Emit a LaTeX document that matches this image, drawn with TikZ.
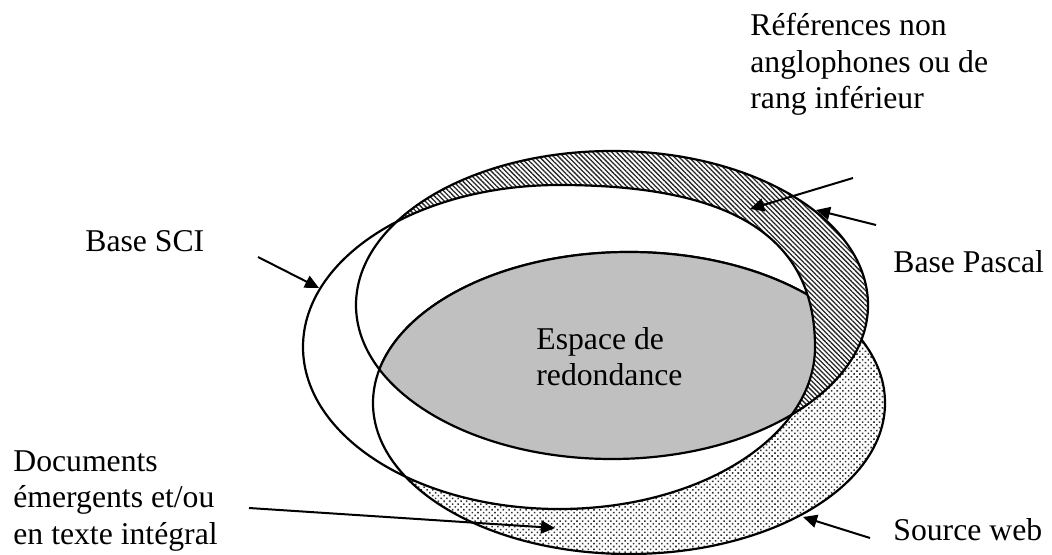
\documentclass[tikz,border=0pt]{standalone}
\usepackage{fontspec}
\setmainfont{Liberation Serif}
\usetikzlibrary{arrows.meta, patterns.meta}
\definecolor{overlapgray}{RGB}{192,192,192}

\begin{document}
\begin{tikzpicture}[x=0.5pt, y=-0.5pt,
  every node/.style={font=\fontsize{15.85pt}{18.25pt}\selectfont, inner sep=0pt},
  outline/.style={line width=1.1pt},
  pointer/.style={line width=1pt, -{Triangle[length=7pt, width=6.5pt]}},
  sciset/.style={insert path={(303,347) .. controls (303,257.5) and (417.6,185) .. (559,185)
      .. controls (733,185) and (815,237) .. (815,347)
      .. controls (815,436.5) and (700.4,509) .. (559,509)
      .. controls (417.6,509) and (303,436.5) .. cycle}},
  pascalset/.style={insert path={(612,305) ellipse [x radius=256, y radius=154]}},
  webset/.style={insert path={(629,403) ellipse [x radius=256, y radius=151]}}]

\useasboundingbox (0,0) rectangle (1052,555);

% source web
\path[fill=white, webset];
\path[pattern={Dots[distance=2pt, radius=0.55pt, angle=45]}, pattern color=black!80, webset];
\draw[outline, webset];

% base Pascal
\path[fill=white, pascalset];
\path[pattern={Lines[angle=-45, distance=1.7pt, line width=0.65pt]}, pattern color=black!85, pascalset];

% base SCI
\path[fill=white, sciset];
\begin{scope}
  \clip[sciset];
  \draw[outline, webset];
\end{scope}

% espace de redondance
\begin{scope}
  \clip[sciset];
  \clip[pascalset];
  \fill[overlapgray, webset];
  \draw[outline, webset];
\end{scope}

\draw[outline, pascalset];
\draw[outline, sciset];

% textes
\node[anchor=north west, align=left] (nonangl) at (750,13)
    {Références non\\anglophones ou de\\rang inférieur};
\node[anchor=base west] (pascal) at (893,272) {Base Pascal};
\node[anchor=base west] (sci) at (85,251) {Base SCI};
\node[anchor=north west, align=left] (redond) at (536,327)
    {Espace de\\redondance};
\node[anchor=north west, align=left] (emerg) at (13,450)
    {Documents\\émergents et/ou\\en texte intégral};
\node[anchor=base west] (web) at (893,540) {Source web};

% fleches
\coordinate (sci tail) at (258,257);
\coordinate (sci tip) at (319,288);
\coordinate (pascal tail) at (876,225);
\coordinate (pascal tip) at (816,210);
\coordinate (nonangl tail) at (853,178);
\coordinate (nonangl tip) at (750,209);
\coordinate (emerg tail) at (249,508);
\coordinate (emerg tip) at (555,528);
\coordinate (web tail) at (870,538);
\coordinate (web tip) at (803,517);

\draw[pointer] (sci tail) -- (sci tip);
\draw[pointer] (pascal tail) -- (pascal tip);
\draw[pointer] (nonangl tail) -- (nonangl tip);
\draw[pointer] (emerg tail) -- (emerg tip);
\draw[pointer] (web tail) -- (web tip);

\end{tikzpicture}
\end{document}
